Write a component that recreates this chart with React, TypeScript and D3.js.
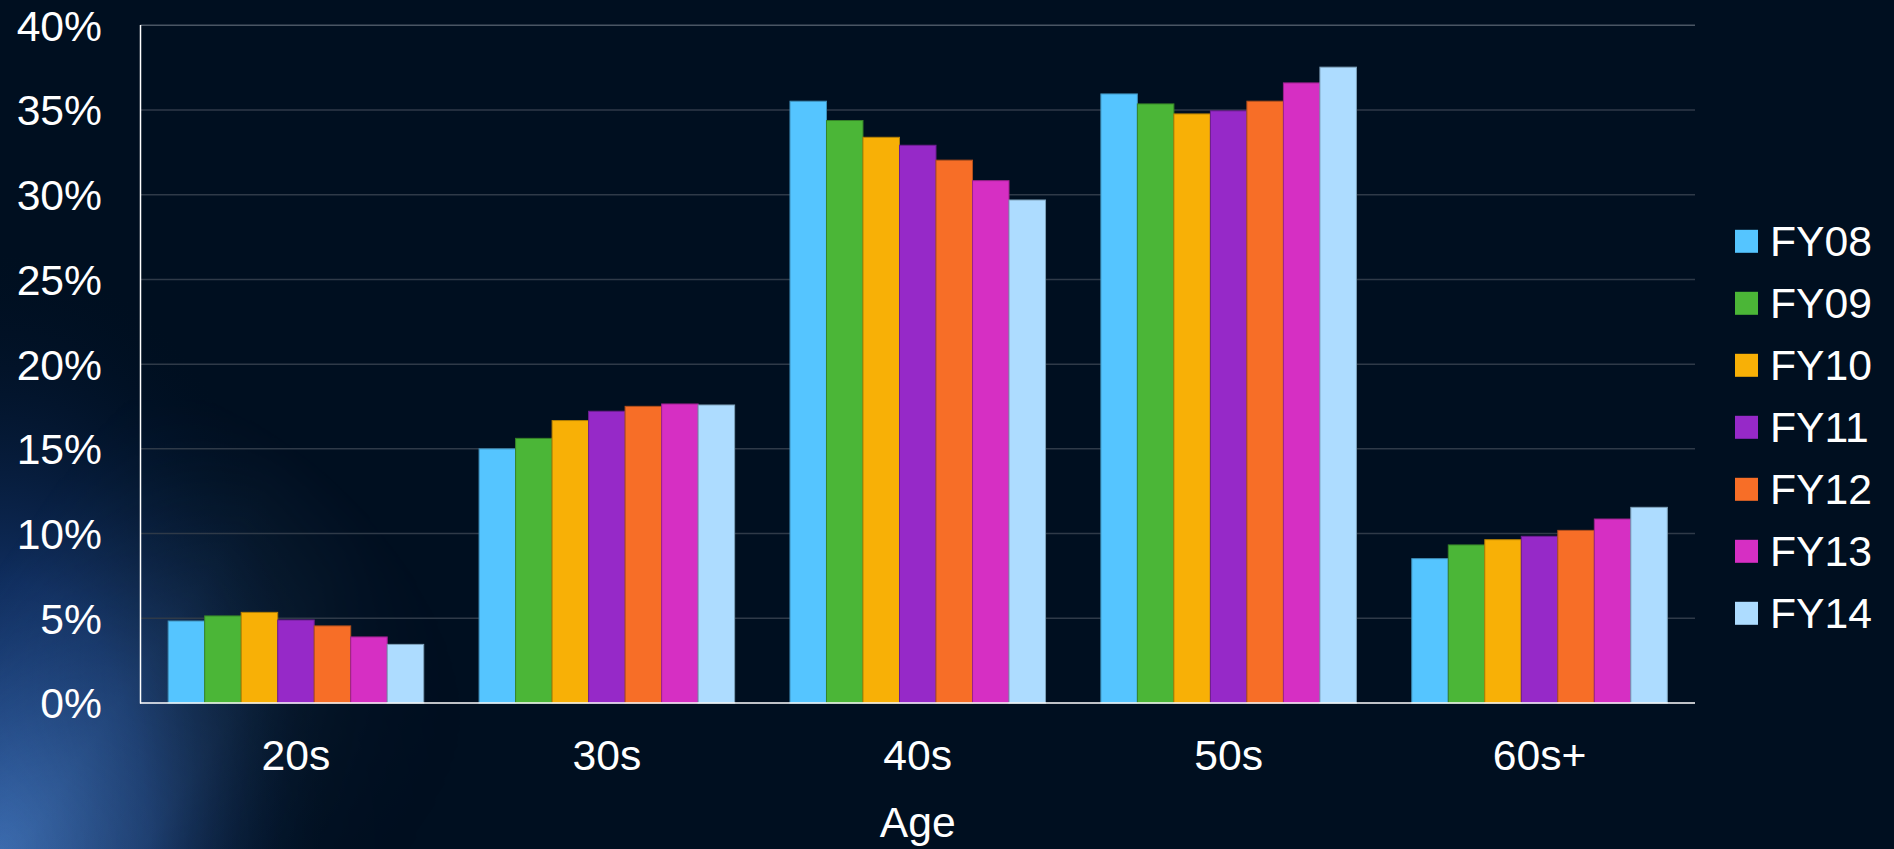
import React from "react";
import * as d3 from "d3";

const categories = ["20s", "30s", "40s", "50s", "60s+"];
const seriesNames = ["FY08", "FY09", "FY10", "FY11", "FY12", "FY13", "FY14"];
const seriesColors = ["#55C5FF", "#4BB637", "#F8B006", "#9629C8", "#F76E27", "#D62FC3", "#ADDCFF"];
const fy08 = [4.84, 15.0, 35.52, 35.95, 8.52];
const fy09 = [5.14, 15.62, 34.38, 35.36, 9.33];
const fy10 = [5.35, 16.67, 33.39, 34.77, 9.64];
const fy11 = [4.9, 17.22, 32.92, 34.95, 9.84];
const fy12 = [4.55, 17.51, 32.04, 35.52, 10.19];
const fy13 = [3.9, 17.65, 30.83, 36.6, 10.86];
const fy14 = [3.46, 17.59, 29.69, 37.53, 11.55];
const seriesValues = [fy08, fy09, fy10, fy11, fy12, fy13, fy14];
const yTicks = [0, 5, 10, 15, 20, 25, 30, 35, 40];
const xTitle = "Age";

const W = 1894;
const H = 849;
const FONT = "'Liberation Sans', Arial, sans-serif";
const FS = 42.67;

export default function App() {
  const x0 = d3
    .scaleBand<string>()
    .domain(categories)
    .range([140.5, 1695])
    .paddingInner(0.178)
    .paddingOuter(0.089);
  const x1 = d3
    .scaleBand<string>()
    .domain(seriesNames)
    .range([0, x0.bandwidth()])
    .padding(0);
  const y = d3.scaleLinear().domain([0, 40]).range([703, 25.3]);
  const legendY = d3.scalePoint<string>().domain(seriesNames).range([241.3, 241.3 + 62 * 6]);

  return (
    <svg
      width={W}
      height={H}
      style={{ position: "absolute", left: 0, top: 0, display: "block" }}
    >
      <defs>
        <radialGradient id="glow" cx="0" cy="849" r="600" gradientUnits="userSpaceOnUse"
          gradientTransform="translate(0,849) scale(0.55,1) translate(0,-849)">
          <stop offset="0%" stopColor="#2f5fa8" stopOpacity="0.95" />
          <stop offset="45%" stopColor="#163a78" stopOpacity="0.7" />
          <stop offset="100%" stopColor="#001026" stopOpacity="0" />
        </radialGradient>
        <linearGradient id="streak" gradientUnits="userSpaceOnUse" x1="0" y1="560" x2="420" y2="849">
          <stop offset="0%" stopColor="#5a8cc8" stopOpacity="0" />
          <stop offset="35%" stopColor="#5a8cc8" stopOpacity="0.35" />
          <stop offset="55%" stopColor="#6a9ad0" stopOpacity="0.25" />
          <stop offset="100%" stopColor="#001026" stopOpacity="0" />
        </linearGradient>
        <radialGradient id="streakMask" cx="0" cy="849" r="500" gradientUnits="userSpaceOnUse">
          <stop offset="0%" stopColor="#fff" stopOpacity="1" />
          <stop offset="100%" stopColor="#fff" stopOpacity="0" />
        </radialGradient>
        <mask id="m">
          <rect x={0} y={0} width={W} height={H} fill="url(#streakMask)" />
        </mask>
      </defs>
      <rect x={0} y={0} width={W} height={H} fill="#000F20" />
      <rect x={0} y={0} width={W} height={H} fill="url(#glow)" />
      <rect x={0} y={400} width={600} height={449} fill="url(#streak)" mask="url(#m)" />

      {/* gridlines */}
      {yTicks
        .filter((t) => t > 0)
        .map((t) => (
          <line
            key={t}
            x1={140.5}
            x2={1695}
            y1={y(t)}
            y2={y(t)}
            stroke={t === 40 ? "#4a5664" : "#2f3a48"}
            strokeWidth={1.5}
          />
        ))}

      {/* bars */}
      {categories.map((c, ci) => (
        <g key={c} transform={`translate(${x0(c)},0)`}>
          {seriesNames.map((s, si) => {
            const v = seriesValues[si][ci];
            const col = seriesColors[si];
            return (
              <rect
                key={s}
                x={x1(s)}
                y={y(v)}
                width={x1.bandwidth()}
                height={y(0) - y(v)}
                fill={col}
                stroke={d3.color(col)!.darker(0.9).formatHex()}
                strokeWidth={1}
              />
            );
          })}
        </g>
      ))}

      {/* axes */}
      <line x1={140.5} x2={140.5} y1={25} y2={703.5} stroke="#ffffff" strokeWidth={1.5} />
      <line x1={140} x2={1695} y1={703} y2={703} stroke="#ffffff" strokeWidth={1.5} />

      {/* y tick labels */}
      {yTicks.map((t) => (
        <text
          key={t}
          x={102}
          y={y(t) + 15.4}
          textAnchor="end"
          fill="#ffffff"
          fontFamily={FONT}
          fontSize={FS}
        >
          {`${t}%`}
        </text>
      ))}

      {/* x tick labels */}
      {categories.map((c) => (
        <text
          key={c}
          x={x0(c)! + x0.bandwidth() / 2}
          y={770}
          textAnchor="middle"
          fill="#ffffff"
          fontFamily={FONT}
          fontSize={FS}
        >
          {c}
        </text>
      ))}

      <text
        x={(140.5 + 1695) / 2}
        y={836.5}
        textAnchor="middle"
        fill="#ffffff"
        fontFamily={FONT}
        fontSize={FS}
      >
        {xTitle}
      </text>

      {/* legend */}
      {seriesNames.map((s, si) => (
        <g key={s}>
          <rect x={1735} y={legendY(s)! - 11.5} width={23} height={23} fill={seriesColors[si]} />
          <text
            x={1770}
            y={legendY(s)! + 14.7}
            fill="#ffffff"
            fontFamily={FONT}
            fontSize={FS}
          >
            {s}
          </text>
        </g>
      ))}
    </svg>
  );
}
